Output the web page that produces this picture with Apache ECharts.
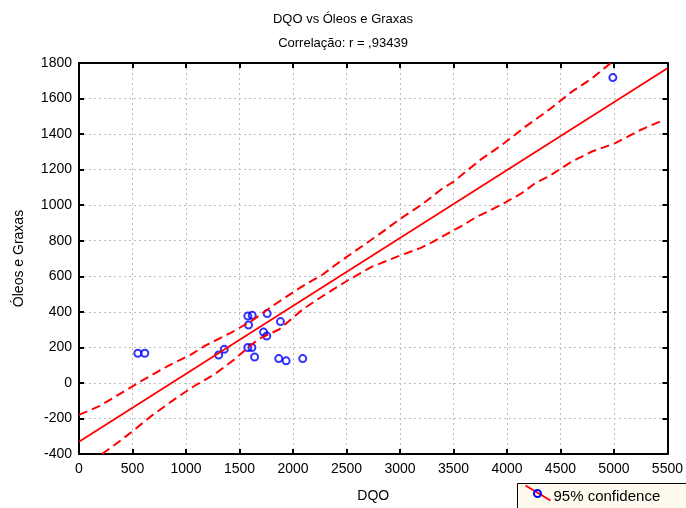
<!DOCTYPE html>
<html><head><meta charset="utf-8">
<script src="https://cdn.jsdelivr.net/npm/echarts@6/dist/echarts.min.js"></script>
<style>html,body{margin:0;padding:0;background:#fff}#c{width:686px;height:508px}</style>
</head><body><div id="c"></div>
<script>
// Data
const dqo    = [550, 615, 1305, 1358, 1578, 1616, 1641, 1585, 1578, 1619, 1759, 1725, 1755, 1883, 1867, 1936, 2091, 4990];
const oleos  = [167, 167, 157, 189, 199, 199, 146, 326, 376, 380, 390, 286, 264, 345, 137, 124, 137, 1718];
const fitX   = [0, 5500];
const fitY   = [-331, 1770];
const upperX = [0, 196, 351, 584, 833, 1050, 1175, 1423, 1610, 1843, 2091, 2278, 2402, 2557, 2713, 2868, 2992, 3226, 3381, 3505, 3629, 3754, 3955, 4173, 4391, 4608, 4795, 4970];
const upperY = [-180, -129, -73, 11, 96, 161, 208, 283, 348, 447, 545, 610, 666, 732, 797, 863, 919, 1013, 1087, 1134, 1196, 1256, 1340, 1442, 1536, 1639, 1714, 1800];
const lowerX = [215, 367, 507, 678, 895, 1081, 1268, 1454, 1672, 1874, 2091, 2278, 2526, 2744, 2980, 3179, 3303, 3428, 3583, 3722, 3831, 3987, 4142, 4267, 4391, 4608, 4795, 5013, 5230, 5440];
const lowerY = [-400, -334, -269, -185, -91, -16, 49, 133, 245, 302, 414, 489, 582, 655, 712, 756, 792, 835, 885, 937, 966, 1016, 1069, 1125, 1162, 1246, 1302, 1349, 1418, 1473];
const xTicks = {min: 0, max: 5500, interval: 500};
const yTicks = {min: -400, max: 1800, interval: 200};
const titleText = 'DQO vs Óleos e Graxas';
const subText = 'Correlação: r = ,93439';
const xName = 'DQO';
const yName = 'Óleos e Graxas';
const legendText = '95% confidence';

const zip = (a, b) => a.map((v, i) => [v, b[i]]);
const FONT = '"Liberation Sans", Arial, sans-serif';
const plain = v => String(v);
const axisCommon = {
  axisLine: {onZero: false, lineStyle: {color: '#000', width: 2}},
  axisTick: {inside: true, length: 5, lineStyle: {color: '#000', width: 2}},
  splitLine: {show: false}
};
const chart = echarts.init(document.getElementById('c'), null, {renderer: 'canvas'});
chart.setOption({
  animation: false,
  backgroundColor: '#fff',
  title: [
    {text: titleText, left: 'center', top: 8, textStyle: {fontFamily: FONT, fontSize: 13, fontWeight: 'normal', color: '#000'}},
    {text: subText, left: 'center', top: 32, textStyle: {fontFamily: FONT, fontSize: 13, fontWeight: 'normal', color: '#000'}}
  ],
  grid: {left: 79, right: 17, top: 63, bottom: 53, containLabel: false},
  xAxis: [
    Object.assign({}, axisCommon, {
      type: 'value', position: 'bottom', min: xTicks.min, max: xTicks.max, interval: xTicks.interval,
      name: xName, nameLocation: 'middle', nameGap: 35,
      nameTextStyle: {fontFamily: FONT, fontSize: 14, color: '#000'},
      axisLabel: {fontFamily: FONT, fontSize: 14, color: '#000', margin: 8, formatter: plain},
      splitLine: {show: true, lineStyle: {type: [2, 3], color: '#bdbdbd', width: 1}}
    }),
    Object.assign({}, axisCommon, {
      type: 'value', position: 'top', min: xTicks.min, max: xTicks.max, interval: xTicks.interval,
      axisLabel: {show: false}
    })
  ],
  yAxis: [
    Object.assign({}, axisCommon, {
      type: 'value', position: 'left', min: yTicks.min, max: yTicks.max, interval: yTicks.interval,
      name: yName, nameLocation: 'middle', nameGap: 53,
      nameTextStyle: {fontFamily: FONT, fontSize: 14, color: '#000'},
      axisLabel: {fontFamily: FONT, fontSize: 14, color: '#000', margin: 7, formatter: plain},
      splitLine: {show: true, lineStyle: {type: [2, 3], color: '#bdbdbd', width: 1}}
    }),
    Object.assign({}, axisCommon, {
      type: 'value', position: 'right', min: yTicks.min, max: yTicks.max, interval: yTicks.interval,
      axisLabel: {show: false}
    })
  ],
  series: [
    {type: 'line', name: 'upper', data: zip(upperX, upperY), symbol: 'none', clip: true,
     lineStyle: {color: '#ff0000', width: 2, type: [9, 5]}},
    {type: 'line', name: 'lower', data: zip(lowerX, lowerY), symbol: 'none', clip: true,
     lineStyle: {color: '#ff0000', width: 2, type: [9, 5]}},
    {type: 'line', name: 'fit', data: zip(fitX, fitY), symbol: 'none', clip: true,
     lineStyle: {color: '#ff0000', width: 1.8}},
    {type: 'scatter', name: legendText, data: zip(dqo, oleos), symbol: 'circle', symbolSize: 7,
     itemStyle: {color: 'rgba(0,0,0,0)', borderColor: '#0000ff', borderWidth: 2}}
  ],
  graphic: [
    {type: 'group', left: 517, top: 483, children: [
      {type: 'rect', shape: {x: 0, y: 0, width: 200, height: 40}, style: {fill: '#fffaee', stroke: '#000', lineWidth: 1}},
      {type: 'line', shape: {x1: 8, y1: 2, x2: 33, y2: 17}, style: {stroke: '#ff0000', lineWidth: 2}},
      {type: 'circle', shape: {cx: 20, cy: 10, r: 3.5}, style: {fill: 'none', stroke: '#0000ff', lineWidth: 2}},
      {type: 'text', x: 36, y: 13, style: {text: legendText, font: '15px ' + FONT, fill: '#000', verticalAlign: 'middle'}}
    ]}
  ]
});
</script>
</body></html>
